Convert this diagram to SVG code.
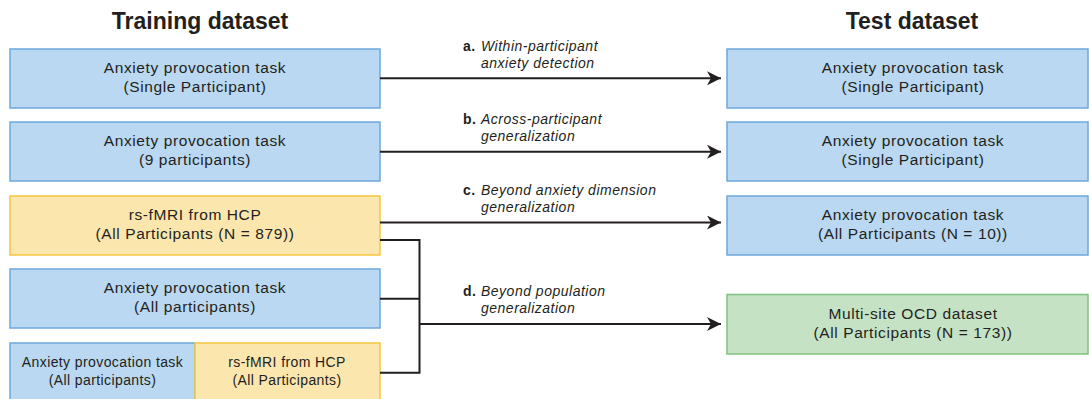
<svg xmlns="http://www.w3.org/2000/svg" width="1089" height="399" viewBox="0 0 1089 399">
<style>
.t{font-family:"Liberation Sans",Arial,sans-serif;fill:#231f20;}
.title{font-size:23px;font-weight:bold;text-anchor:middle;}
.bt{font-size:15.5px;letter-spacing:0.6px;text-anchor:middle;}
.sm{font-size:14px;letter-spacing:0.4px;text-anchor:middle;}
.lb{font-size:14px;letter-spacing:0.5px;}
.lbb{font-weight:bold;}
.lbi{font-style:italic;}
.blue{fill:#bad8f1;stroke:#6ea8dc;stroke-width:1.5;}
.yel{fill:#fbe6ae;stroke:#f5c640;stroke-width:1.5;}
.grn{fill:#c5e2c5;stroke:#7ec27e;stroke-width:1.5;}
.ln{fill:none;stroke:#231f20;stroke-width:2;}
</style>
<defs>
<marker id="ah" markerUnits="userSpaceOnUse" markerWidth="16" markerHeight="14" refX="14" refY="7" orient="auto">
<path d="M0,0 L14,7 L0,14 L4,7 Z" fill="#231f20"/>
</marker>
</defs>
<rect width="1089" height="399" fill="#ffffff"/>
<text class="t title" x="200" y="29">Training dataset</text>
<text class="t title" x="912" y="29">Test dataset</text>

<g id="train1"><rect class="blue" x="10" y="49" width="370" height="59"/>
<text class="t bt" x="195" y="73">Anxiety provocation task</text><text class="t bt" x="195" y="92">(Single Participant)</text></g>
<g id="train2"><rect class="blue" x="10" y="122" width="370" height="59"/>
<text class="t bt" x="195" y="146">Anxiety provocation task</text><text class="t bt" x="195" y="165">(9 participants)</text></g>
<g id="train3"><rect class="yel" x="10" y="196" width="370" height="59"/>
<text class="t bt" x="195" y="220">rs-fMRI from HCP</text><text class="t bt" x="195" y="239">(All Participants (N = 879))</text></g>
<g id="train4"><rect class="blue" x="10" y="269" width="370" height="59"/>
<text class="t bt" x="195" y="293">Anxiety provocation task</text><text class="t bt" x="195" y="312">(All participants)</text></g>
<g id="train5"><rect class="blue" x="10" y="343" width="185" height="60"/><rect class="yel" x="195" y="343" width="185" height="60"/>
<text class="t sm" x="102.5" y="367">Anxiety provocation task</text><text class="t sm" x="102.5" y="385">(All participants)</text>
<text class="t sm" x="287" y="367">rs-fMRI from HCP</text><text class="t sm" x="287" y="385">(All Participants)</text></g>

<g id="test1"><rect class="blue" x="727" y="49" width="361" height="59"/>
<text class="t bt" x="913" y="73">Anxiety provocation task</text><text class="t bt" x="913" y="92">(Single Participant)</text></g>
<g id="test2"><rect class="blue" x="727" y="122" width="361" height="59"/>
<text class="t bt" x="913" y="146">Anxiety provocation task</text><text class="t bt" x="913" y="165">(Single Participant)</text></g>
<g id="test3"><rect class="blue" x="727" y="196" width="361" height="59"/>
<text class="t bt" x="913" y="220">Anxiety provocation task</text><text class="t bt" x="913" y="239">(All Participants (N = 10))</text></g>
<g id="test4"><rect class="grn" x="727" y="294.5" width="361" height="59.5"/>
<text class="t bt" x="913" y="319">Multi-site OCD dataset</text><text class="t bt" x="913" y="338">(All Participants (N = 173))</text></g>

<g id="connectors">
<path class="ln" d="M380,78.3 H721" marker-end="url(#ah)"/>
<path class="ln" d="M380,151.7 H721" marker-end="url(#ah)"/>
<path class="ln" d="M380,222.5 H721" marker-end="url(#ah)"/>
<path class="ln" d="M380,240 H419.5 V372.7 H380"/>
<path class="ln" d="M380,298.7 H419.5"/>
<path class="ln" d="M419.5,324 H721" marker-end="url(#ah)"/>
</g>
<g id="labels">
<text class="t lb" x="463" y="51"><tspan class="lbb">a.</tspan><tspan class="lbi" x="481">Within-participant</tspan></text>
<text class="t lb lbi" x="481" y="67.5">anxiety detection</text>
<text class="t lb" x="463" y="124"><tspan class="lbb">b.</tspan><tspan class="lbi" x="481">Across-participant</tspan></text>
<text class="t lb lbi" x="481" y="141">generalization</text>
<text class="t lb" x="463" y="195"><tspan class="lbb">c.</tspan><tspan class="lbi" x="481">Beyond anxiety dimension</tspan></text>
<text class="t lb lbi" x="481" y="212">generalization</text>
<text class="t lb" x="463" y="296"><tspan class="lbb">d.</tspan><tspan class="lbi" x="481">Beyond population</tspan></text>
<text class="t lb lbi" x="481" y="313">generalization</text>
</g>
</svg>
